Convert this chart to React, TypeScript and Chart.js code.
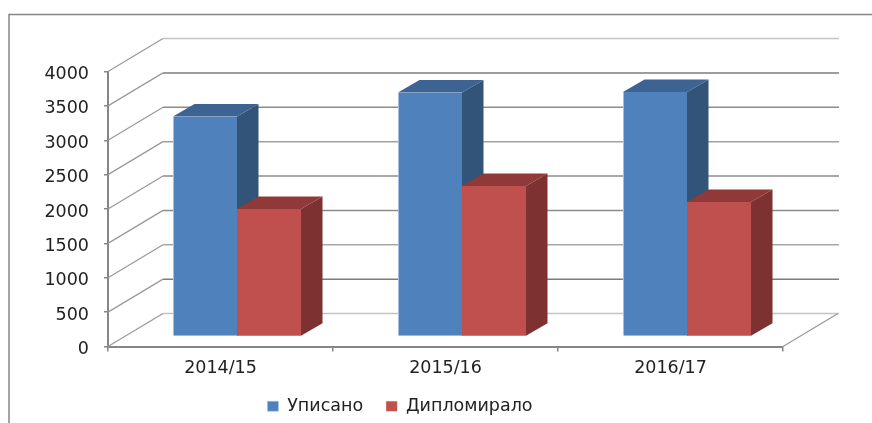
import React, { useEffect, useRef } from "react";
import { Chart, registerables } from "chart.js";

Chart.register(...registerables);

const categories = ["2014/15", "2015/16", "2016/17"];
const enrolled = [3200, 3550, 3555];
const graduated = [1855, 2190, 1955];
const seriesNames = ["Уписано", "Дипломирало"];
const yTicks = [0, 500, 1000, 1500, 2000, 2500, 3000, 3500, 4000];
const backLineColors = ["#c4c4c4", "#7c7c7c", "#a8a8a8", "#8c8c8c", "#8c8c8c", "#a0a0a0", "#8c8c8c", "#7c7c7c", "#c4c4c4"];

const FRONT = ["#4f81bd", "#c0504d"];
const EDGE = ["#a9c1de", "#d49a98"];
const TOP = ["#3c6391", "#8f3a38"];
const SIDE = ["#325479", "#7d3130"];
const WALL_DX = 55;
const WALL_DY = -33;
const BAR_PLANE_DX = 16.5;
const BAR_PLANE_DY = -10;
const BAR_DX = 21.5;
const BAR_DY = -12.5;
const AXIS = "#868686";

function drawSolid(chart: any, index: number) {
  const ctx = chart.ctx;
  for (const bar of chart.getDatasetMeta(index).data) {
    const l = bar.x - bar.width / 2;
    const r = bar.x + bar.width / 2;
    const t = bar.y;
    const b = bar.base;
    ctx.fillStyle = SIDE[index];
    ctx.beginPath();
    ctx.moveTo(r, t);
    ctx.lineTo(r + BAR_DX, t + BAR_DY);
    ctx.lineTo(r + BAR_DX, b + BAR_DY);
    ctx.lineTo(r, b);
    ctx.closePath();
    ctx.fill();
    ctx.fillStyle = TOP[index];
    ctx.beginPath();
    ctx.moveTo(l, t);
    ctx.lineTo(l + BAR_DX, t + BAR_DY);
    ctx.lineTo(r + BAR_DX, t + BAR_DY);
    ctx.lineTo(r, t);
    ctx.closePath();
    ctx.fill();
  }
}

const wallPlugin = {
  id: "wall3d",
  beforeDraw(chart: any) {
    const ctx = chart.ctx;
    ctx.save();
    ctx.strokeStyle = AXIS;
    ctx.lineWidth = 1.5;
    ctx.beginPath();
    ctx.moveTo(9, 423);
    ctx.lineTo(9, 14.5);
    ctx.lineTo(872, 14.5);
    ctx.stroke();
    ctx.restore();
  },
  beforeDatasetsDraw(chart: any) {
    const ctx = chart.ctx;
    const { left, right } = chart.chartArea;
    const y = chart.scales.y;
    ctx.save();
    yTicks.forEach((tick, i) => {
      const py = y.getPixelForValue(tick);
      ctx.lineWidth = 1.3;
      ctx.strokeStyle = "#9a9a9a";
      ctx.beginPath();
      ctx.moveTo(left, py);
      ctx.lineTo(left + WALL_DX, py + WALL_DY);
      ctx.stroke();
      ctx.strokeStyle = backLineColors[i];
      ctx.lineWidth = 1.5;
      ctx.beginPath();
      ctx.moveTo(left + WALL_DX, py + WALL_DY);
      ctx.lineTo(right + WALL_DX + 1, py + WALL_DY);
      ctx.stroke();
    });
    const y0 = y.getPixelForValue(0);
    ctx.strokeStyle = "#9a9a9a";
    ctx.lineWidth = 1.3;
    ctx.beginPath();
    ctx.moveTo(right, y0);
    ctx.lineTo(right + WALL_DX, y0 + WALL_DY);
    ctx.stroke();
    ctx.restore();

    ctx.save();
    ctx.translate(BAR_PLANE_DX, BAR_PLANE_DY);
    drawSolid(chart, 0);
  },
  beforeDatasetDraw(chart: any, args: any) {
    if (args.index === 1) drawSolid(chart, 1);
  },
  afterDatasetsDraw(chart: any) {
    chart.ctx.restore();
  },
};

export default function App() {
  const ref = useRef<HTMLCanvasElement | null>(null);
  useEffect(() => {
    document.body.style.margin = "0";
    const font = { family: "'DejaVu Sans'", size: 17.5 };
    const chart = new Chart(ref.current as HTMLCanvasElement, {
      type: "bar",
      data: {
        labels: categories,
        datasets: [
          { label: seriesNames[0], data: enrolled, backgroundColor: FRONT[0], borderColor: EDGE[0], borderWidth: { left: 1, bottom: 1 }, clip: false },
          { label: seriesNames[1], data: graduated, backgroundColor: FRONT[1], borderColor: EDGE[1], borderWidth: { bottom: 1 }, clip: false },
        ] as any,
      },
      options: {
        responsive: false,
        animation: false,
        layout: { padding: { left: 17, right: 89, top: 71.5, bottom: -2 } },
        datasets: { bar: { categoryPercentage: 0.569, barPercentage: 1 } },
        scales: {
          x: {
            afterFit(scale: any) {
              scale.height = 28;
            },
            grid: { drawOnChartArea: false, drawTicks: true, color: AXIS, tickLength: 5, lineWidth: 1.5 },
            border: { color: AXIS, width: 2 },
            ticks: { color: "#222", font, padding: 6.5, maxRotation: 0 },
          },
          y: {
            min: 0,
            max: 4000,
            afterFit(scale: any) {
              scale.width = 91;
            },
            afterBuildTicks(scale: any) {
              scale.ticks = yTicks.map((value) => ({ value }));
            },
            grid: { drawOnChartArea: false, drawTicks: true, color: AXIS, tickLength: 4, lineWidth: 1.5 },
            border: { color: AXIS, width: 2 },
            ticks: { color: "#222", font, padding: 15, labelOffset: 3, callback: (v: any) => String(v) },
          },
        },
        plugins: {
          tooltip: { enabled: false },
          legend: {
            position: "bottom",
            labels: { boxWidth: 11, boxHeight: 10, padding: 23, color: "#222", font },
          },
        },
      } as any,
      plugins: [wallPlugin],
    });
    return () => chart.destroy();
  }, []);
  return (
    <div style={{ position: "absolute", left: 0, top: 0, width: 872, height: 423 }}>
      <canvas ref={ref} width={872} height={423} style={{ display: "block" }} />
    </div>
  );
}
